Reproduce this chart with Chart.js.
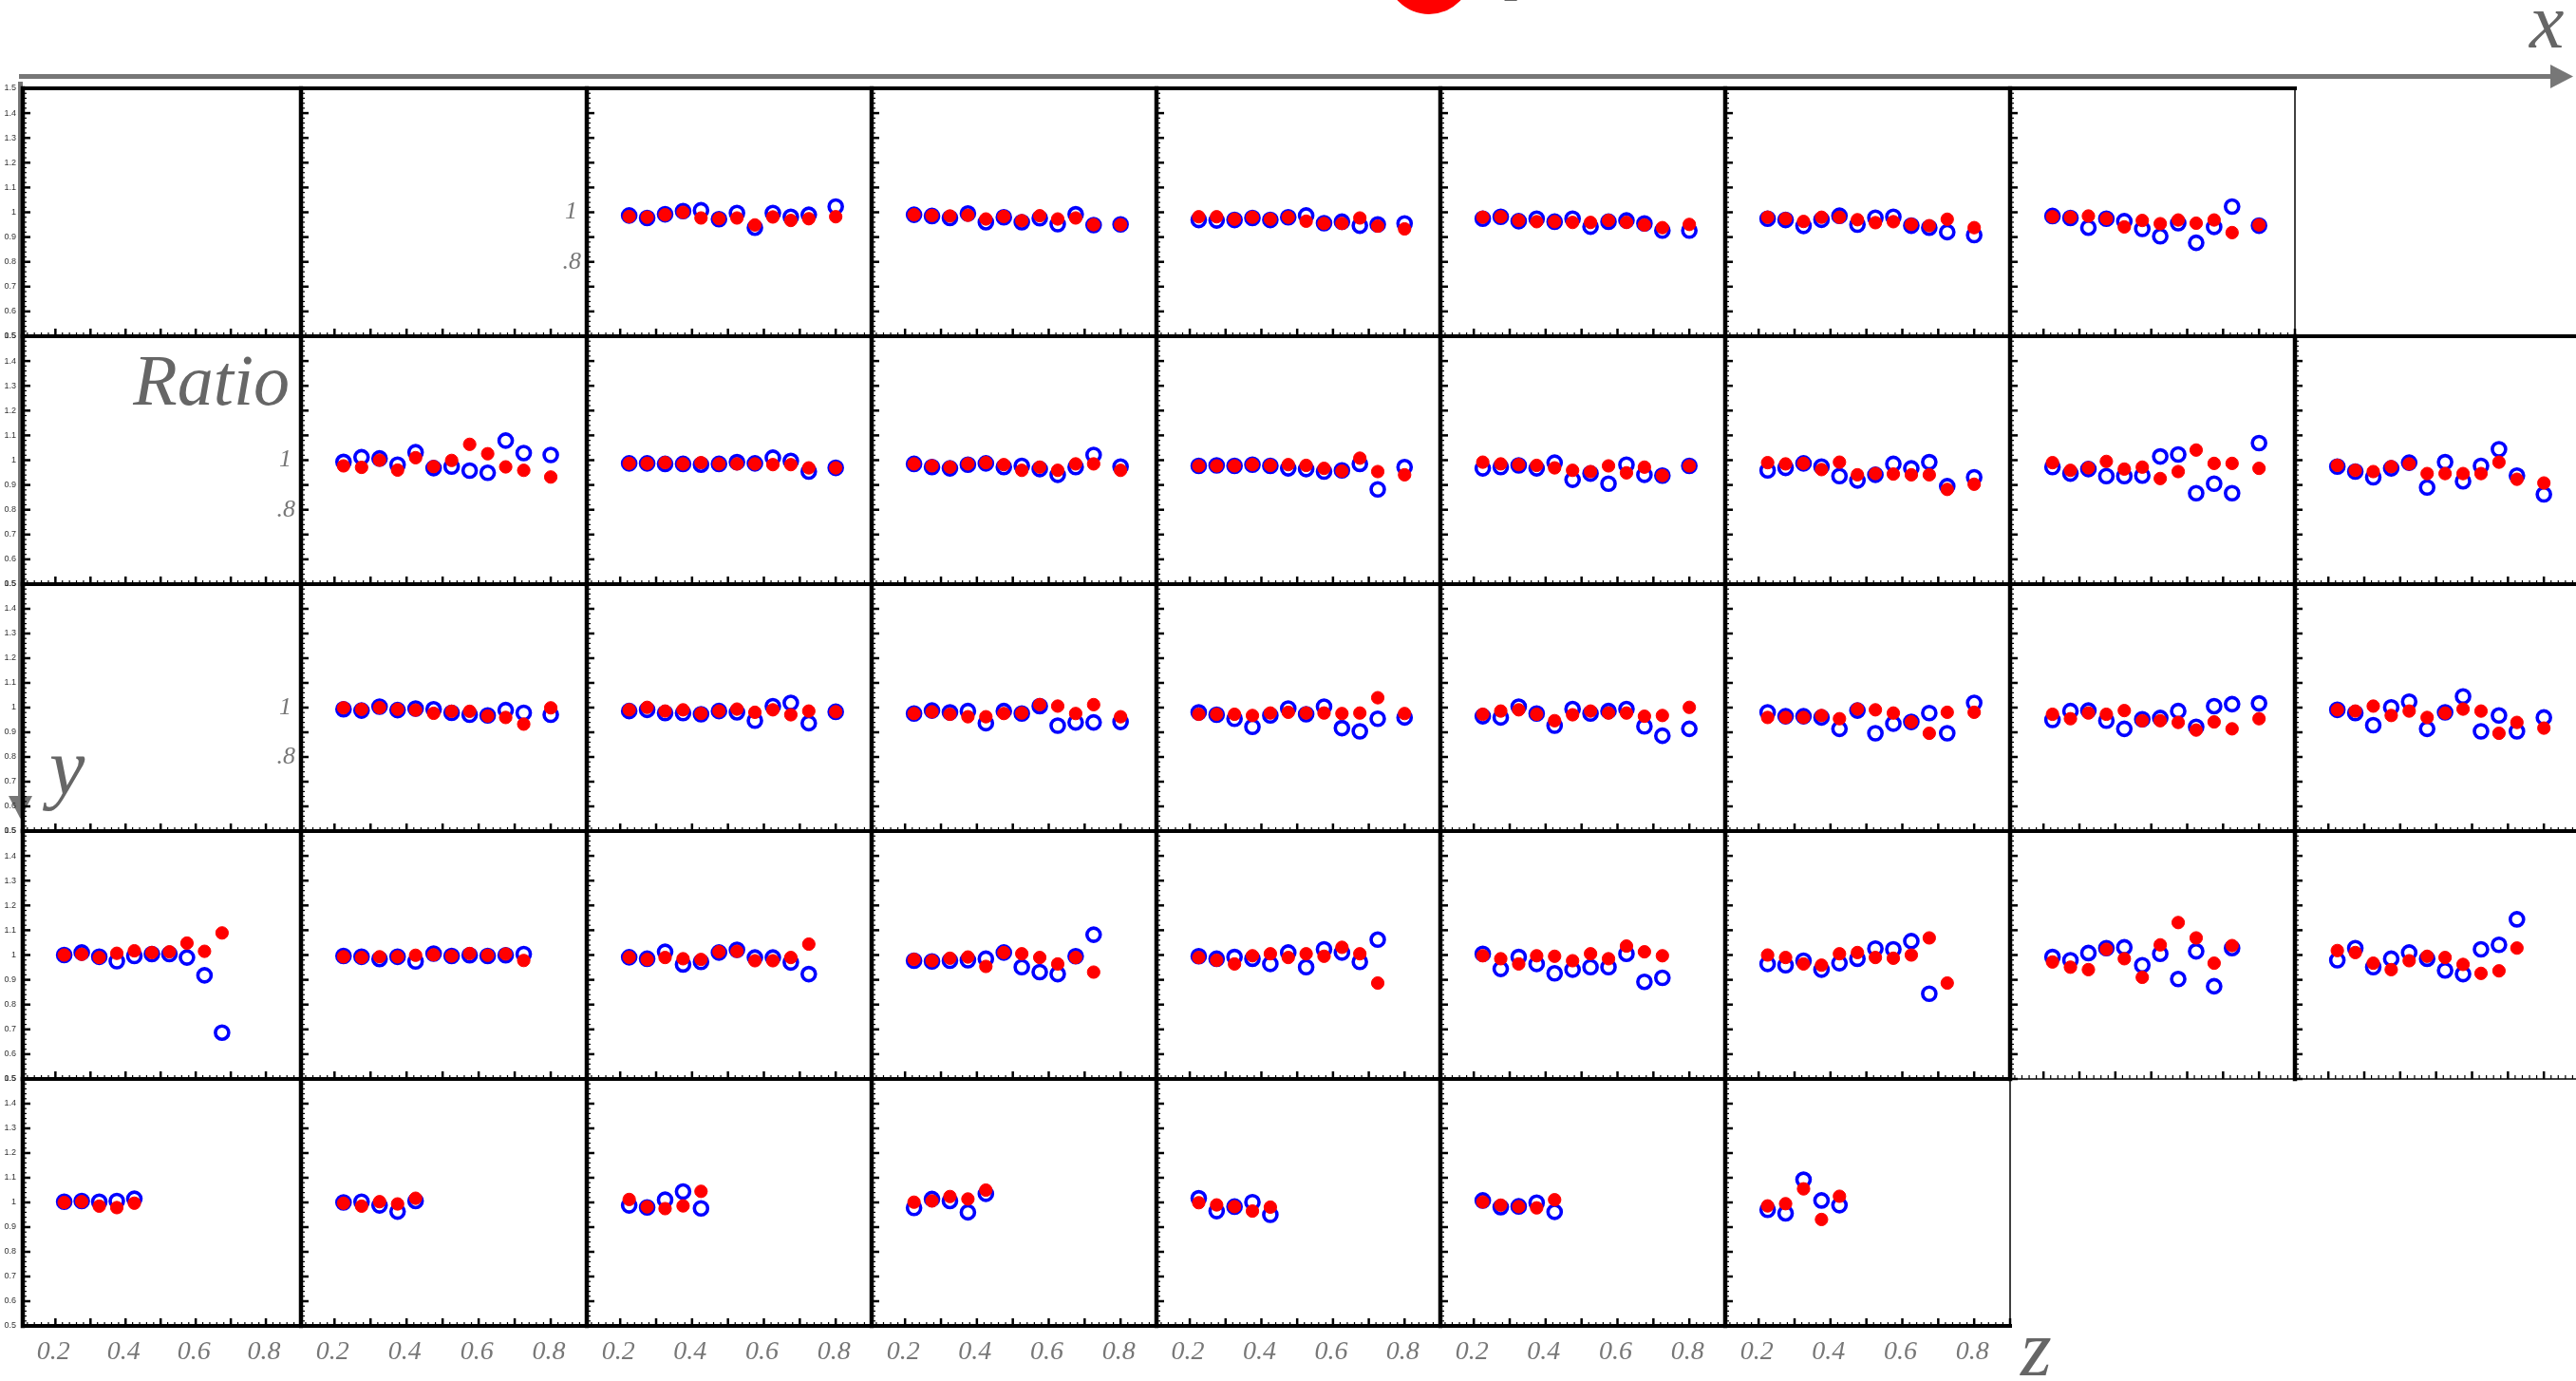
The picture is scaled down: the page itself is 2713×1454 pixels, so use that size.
<!DOCTYPE html>
<html>
<head>
<meta charset="utf-8">
<title>Ratio vs z</title>
<script src="https://cdn.jsdelivr.net/npm/chart.js@4.4.1/dist/chart.umd.min.js"></script>
<style>
  html, body { margin: 0; padding: 0; background: #fff; }
  body { width: 2713px; height: 1454px; overflow: hidden; position: relative; }
  #overlay { position: absolute; left: 0; top: 0; }
  canvas.panel { position: absolute; }
  .lbl { font-family: "Liberation Serif", serif; font-style: italic; fill: #666; }
</style>
</head>
<body>
<svg id="overlay" width="2713" height="1454">
  <!-- axis arrows -->
  <line x1="20" y1="80.5" x2="2690" y2="80.5" stroke="#777" stroke-width="5"/>
  <polygon points="2686,68 2710,80.5 2686,93" fill="#777"/>
  <line x1="21.5" y1="86" x2="21.5" y2="842" stroke="#777" stroke-width="5"/>
  <polygon points="9,838 34,838 21.5,862" fill="#777"/>
  <!-- legend, mostly above the top edge -->
  <circle cx="1505" cy="-30" r="45" fill="#ff0000"/>
  <text class="lbl" x="1588" y="-12" font-size="60">p</text>
  <text class="lbl" x="2664" y="50" font-size="82">x</text>
  <text class="lbl" x="52" y="836" font-size="84">y</text>
  <text class="lbl" x="2128" y="1448" font-size="84">z</text>
  <text class="lbl" x="305" y="426" font-size="76" text-anchor="end">Ratio</text>
</svg>
<script>
// z bin centres shared by all panels (rows 4 and 5 use only the first bins)
const zBins = [0.225, 0.275, 0.325, 0.375, 0.425, 0.475, 0.525, 0.575, 0.625, 0.675, 0.725, 0.8];

const ratioTickValues = [0.5, 0.6, 0.7, 0.8, 0.9, 1.0, 1.1, 1.2, 1.3, 1.4, 1.5];
const ratioTickLabels = ['0.5', '0.6', '0.7', '0.8', '0.9', '1', '1.1', '1.2', '1.3', '1.4', '1.5'];
const zTickValues = [0.2, 0.4, 0.6, 0.8];
const zTickLabels = ['0.2', '0.4', '0.6', '0.8'];

// open blue circles / filled red dots, one entry per column (null = empty frame)
const blueRow1 = [
  null,
  null,
  [0.987, 0.977, 0.992, 1.005, 1.008, 0.972, 0.997, 0.938, 0.997, 0.982, 0.990, 1.023],
  [0.990, 0.985, 0.977, 0.995, 0.960, 0.980, 0.960, 0.976, 0.952, 0.992, 0.948, 0.951],
  [0.969, 0.967, 0.969, 0.977, 0.969, 0.980, 0.987, 0.956, 0.962, 0.946, 0.951, 0.955],
  [0.974, 0.982, 0.964, 0.974, 0.962, 0.974, 0.942, 0.962, 0.967, 0.955, 0.926, 0.926],
  [0.974, 0.969, 0.945, 0.970, 0.986, 0.950, 0.978, 0.982, 0.946, 0.938, 0.920, 0.908],
  [0.985, 0.977, 0.938, 0.974, 0.964, 0.933, 0.903, 0.956, 0.877, 0.941, 1.023, 0.946]
];
const redRow1 = [
  null,
  null,
  [0.983, 0.980, 0.990, 1.000, 0.977, 0.974, 0.977, 0.949, 0.981, 0.967, 0.974, 0.982],
  [0.990, 0.987, 0.985, 0.988, 0.973, 0.983, 0.966, 0.986, 0.973, 0.977, 0.950, 0.950],
  [0.982, 0.982, 0.972, 0.980, 0.972, 0.980, 0.964, 0.955, 0.955, 0.977, 0.944, 0.933],
  [0.980, 0.982, 0.967, 0.962, 0.962, 0.959, 0.959, 0.967, 0.959, 0.949, 0.938, 0.951],
  [0.980, 0.974, 0.963, 0.980, 0.980, 0.970, 0.958, 0.962, 0.951, 0.946, 0.972, 0.938],
  [0.982, 0.980, 0.985, 0.974, 0.941, 0.967, 0.954, 0.969, 0.956, 0.969, 0.918, 0.949]
];

const blueRow2 = [
  null,
  [0.993, 1.012, 1.007, 0.982, 1.032, 0.968, 0.974, 0.958, 0.949, 1.079, 1.029, 1.021],
  [0.987, 0.987, 0.985, 0.985, 0.982, 0.985, 0.992, 0.987, 1.010, 0.997, 0.954, 0.969],
  [0.985, 0.972, 0.967, 0.982, 0.987, 0.972, 0.977, 0.964, 0.941, 0.972, 1.021, 0.974],
  [0.977, 0.979, 0.977, 0.982, 0.977, 0.967, 0.964, 0.954, 0.959, 0.985, 0.882, 0.972],
  [0.967, 0.972, 0.979, 0.967, 0.990, 0.921, 0.946, 0.905, 0.982, 0.941, 0.938, 0.977],
  [0.959, 0.969, 0.987, 0.974, 0.936, 0.918, 0.941, 0.985, 0.967, 0.992, 0.895, 0.931],
  [0.972, 0.946, 0.964, 0.936, 0.936, 0.938, 1.015, 1.023, 0.867, 0.905, 0.867, 1.069],
  [0.974, 0.954, 0.931, 0.967, 0.990, 0.890, 0.992, 0.915, 0.977, 1.044, 0.938, 0.862]
];
const redRow2 = [
  null,
  [0.977, 0.971, 1.000, 0.960, 1.010, 0.974, 0.999, 1.064, 1.026, 0.973, 0.959, 0.932],
  [0.987, 0.987, 0.990, 0.985, 0.990, 0.985, 0.985, 0.985, 0.982, 0.982, 0.969, 0.969],
  [0.985, 0.977, 0.972, 0.985, 0.990, 0.982, 0.959, 0.972, 0.959, 0.985, 0.985, 0.959],
  [0.977, 0.977, 0.977, 0.982, 0.979, 0.982, 0.979, 0.967, 0.956, 1.008, 0.954, 0.941],
  [0.992, 0.985, 0.982, 0.979, 0.969, 0.959, 0.954, 0.977, 0.949, 0.972, 0.938, 0.977],
  [0.990, 0.985, 0.987, 0.962, 0.992, 0.941, 0.946, 0.944, 0.941, 0.941, 0.882, 0.903],
  [0.990, 0.959, 0.969, 0.995, 0.964, 0.972, 0.926, 0.954, 1.041, 0.987, 0.987, 0.967],
  [0.979, 0.959, 0.954, 0.974, 0.985, 0.946, 0.946, 0.946, 0.946, 0.992, 0.923, 0.908]
];

const blueRow3 = [
  null,
  [0.993, 0.988, 1.004, 0.990, 0.996, 0.993, 0.979, 0.971, 0.968, 0.990, 0.979, 0.971],
  [0.986, 0.991, 0.978, 0.978, 0.973, 0.986, 0.981, 0.947, 1.006, 1.019, 0.937, 0.983],
  [0.976, 0.988, 0.981, 0.986, 0.937, 0.986, 0.976, 1.006, 0.927, 0.940, 0.940, 0.942],
  [0.981, 0.971, 0.955, 0.922, 0.968, 0.996, 0.973, 1.004, 0.917, 0.904, 0.955, 0.960],
  [0.965, 0.960, 1.004, 0.976, 0.927, 0.994, 0.976, 0.986, 0.994, 0.924, 0.886, 0.914],
  [0.981, 0.965, 0.965, 0.960, 0.914, 0.988, 0.896, 0.935, 0.942, 0.978, 0.896, 1.019],
  [0.950, 0.986, 0.988, 0.947, 0.914, 0.953, 0.958, 0.986, 0.922, 1.006, 1.014, 1.017],
  [0.991, 0.978, 0.929, 1.001, 1.024, 0.914, 0.981, 1.045, 0.904, 0.968, 0.904, 0.960]
];
const redRow3 = [
  null,
  [0.999, 0.993, 1.000, 0.993, 0.990, 0.977, 0.985, 0.985, 0.966, 0.960, 0.933, 0.999],
  [0.991, 1.001, 0.986, 0.991, 0.976, 0.986, 0.994, 0.981, 0.991, 0.971, 0.986, 0.983],
  [0.976, 0.983, 0.973, 0.963, 0.963, 0.976, 0.978, 1.012, 1.006, 0.976, 1.012, 0.963],
  [0.973, 0.973, 0.973, 0.968, 0.978, 0.981, 0.978, 0.978, 0.976, 0.978, 1.040, 0.976],
  [0.973, 0.986, 0.991, 0.973, 0.947, 0.971, 0.986, 0.978, 0.978, 0.965, 0.968, 1.001],
  [0.960, 0.960, 0.960, 0.968, 0.955, 0.994, 0.991, 0.978, 0.942, 0.896, 0.981, 0.981],
  [0.973, 0.955, 0.978, 0.973, 0.988, 0.947, 0.947, 0.940, 0.909, 0.942, 0.914, 0.955],
  [0.991, 0.986, 1.006, 0.968, 0.986, 0.960, 0.978, 0.994, 0.986, 0.896, 0.940, 0.917]
];

const blueRow4 = [
  [1.000, 1.010, 0.993, 0.975, 0.996, 1.004, 1.004, 0.990, 0.918, 0.687],
  [0.996, 0.993, 0.984, 0.993, 0.974, 1.006, 0.996, 0.999, 0.996, 0.999, 1.004],
  [0.991, 0.985, 1.013, 0.962, 0.972, 1.010, 1.021, 0.990, 0.990, 0.970, 0.923],
  [0.977, 0.974, 0.977, 0.979, 0.985, 1.010, 0.951, 0.931, 0.923, 0.995, 1.082],
  [0.995, 0.985, 0.992, 0.985, 0.964, 1.010, 0.951, 1.023, 1.010, 0.972, 1.062],
  [1.005, 0.944, 0.992, 0.964, 0.926, 0.941, 0.951, 0.951, 1.005, 0.892, 0.908],
  [0.964, 0.959, 0.977, 0.941, 0.967, 0.985, 1.026, 1.023, 1.056, 0.844, null],
  [0.992, 0.979, 1.008, 1.028, 1.031, 0.959, 1.005, 0.903, 1.015, 0.874, 1.028],
  [0.979, 1.028, 0.951, 0.985, 1.010, 0.985, 0.938, 0.923, 1.023, 1.041, 1.144]
];
const redRow4 = [
  [1.000, 1.003, 0.990, 1.007, 1.017, 1.010, 1.013, 1.048, 1.015, 1.089],
  [0.993, 0.990, 0.993, 0.993, 0.999, 1.001, 0.996, 1.006, 0.999, 1.004, 0.978],
  [0.991, 0.982, 0.990, 0.985, 0.982, 1.013, 1.015, 0.977, 0.977, 0.990, 1.044],
  [0.982, 0.977, 0.987, 0.992, 0.954, 1.010, 1.005, 0.990, 0.964, 0.990, 0.931],
  [0.990, 0.979, 0.964, 0.997, 1.005, 0.990, 1.005, 0.995, 1.031, 1.005, 0.887],
  [0.997, 0.985, 0.964, 0.997, 0.995, 0.977, 1.005, 0.985, 1.036, 1.013, 0.997],
  [1.000, 0.990, 0.964, 0.959, 1.005, 1.010, 0.990, 0.987, 1.000, 1.069, 0.887],
  [0.972, 0.951, 0.941, 1.023, 0.985, 0.910, 1.041, 1.131, 1.069, 0.967, 1.038],
  [1.018, 1.010, 0.967, 0.941, 0.977, 0.995, 0.990, 0.962, 0.926, 0.936, 1.028]
];

const blueRow5 = [
  [1.003, 1.006, 1.003, 1.006, 1.015],
  [1.000, 1.003, 0.988, 0.963, 1.006],
  [0.988, 0.980, 1.011, 1.044, 0.976],
  [0.978, 1.014, 1.006, 0.960, 1.035],
  [1.017, 0.965, 0.983, 1.001, 0.950],
  [1.008, 0.981, 0.984, 0.999, 0.962],
  [0.970, 0.956, 1.092, 1.008, 0.989]
];
const redRow5 = [
  [1.000, 1.003, 0.985, 0.979, 0.997],
  [0.997, 0.985, 1.003, 0.994, 1.017],
  [1.012, 0.982, 0.975, 0.986, 1.045],
  [1.001, 1.006, 1.024, 1.014, 1.050],
  [0.999, 0.990, 0.983, 0.965, 0.981],
  [1.002, 0.989, 0.983, 0.978, 1.011],
  [0.986, 0.995, 1.055, 0.931, 1.025]
];

const blueRows = [blueRow1, blueRow2, blueRow3, blueRow4, blueRow5];
const redRows = [redRow1, redRow2, redRow3, redRow4, redRow5];

// panel grid edges in page pixels
const COL_EDGES = [24, 317, 618, 918, 1218, 1517, 1817, 2117, 2417, 2717];
const ROW_EDGES = [93, 354, 615, 875, 1136, 1396];
const PAD = 50;

const Z_MIN = 0.107, Z_MAX = 0.9;

function toPoints(values) {
  const pts = [];
  values.forEach((v, i) => { if (v !== null) pts.push({ x: zBins[i], y: v }); });
  return pts;
}

function hline(ctx, x1, x2, y, w) {
  ctx.lineWidth = w;
  ctx.beginPath(); ctx.moveTo(x1, y); ctx.lineTo(x2, y); ctx.stroke();
}
function vline(ctx, x, y1, y2, w) {
  ctx.lineWidth = w;
  ctx.beginPath(); ctx.moveTo(x, y1); ctx.lineTo(x, y2); ctx.stroke();
}

// frame, inward ticks and the few labels each panel carries
const panelFrame = {
  id: 'panelFrame',
  afterDraw(chart, args, opts) {
    const { ctx, chartArea: a } = chart;
    const xs = chart.scales.x, ys = chart.scales.y;
    ctx.save();
    ctx.strokeStyle = '#000';
    ctx.lineCap = 'butt';

    for (let i = 0; i <= 50; i++) {
      const y = ys.getPixelForValue(0.5 + i * 0.02);
      const major = i % 5 === 0;
      hline(ctx, a.left, a.left + (major ? 8 : 4), y, major ? 2.5 : 1.2);
    }
    for (let i = 6; i <= 45; i++) {
      const v = i * 0.02;
      if (v < Z_MIN || v > Z_MAX) continue;
      const x = xs.getPixelForValue(v);
      const major = i % 5 === 0;
      vline(ctx, x, a.bottom, a.bottom - (major ? 8 : 4), major ? 2.5 : 1.2);
    }

    ctx.lineCap = 'square';
    hline(ctx, a.left, a.right, a.top, 4);
    vline(ctx, a.left, a.top, a.bottom, 4.5);
    hline(ctx, a.left, a.right, a.bottom, opts.thinBottom ? 1.5 : 4);
    if (opts.thinRight) {
      ctx.lineCap = 'butt';
      vline(ctx, a.right, a.top, a.bottom, 1.5);
    }

    if (opts.ratioLabels) {
      ctx.fillStyle = '#333';
      ctx.font = '9px "Liberation Sans", sans-serif';
      ctx.textAlign = 'right';
      ctx.textBaseline = 'middle';
      ratioTickValues.forEach((v, i) => {
        ctx.fillText(ratioTickLabels[i], a.left - 7, ys.getPixelForValue(v));
      });
    }
    if (opts.unitLabels) {
      ctx.fillStyle = '#777';
      ctx.font = 'italic 26px "Liberation Serif", serif';
      ctx.textAlign = 'right';
      ctx.textBaseline = 'middle';
      ctx.fillText('1', a.left - 10, ys.getPixelForValue(1.0));
      ctx.fillText('.8', a.left - 6, ys.getPixelForValue(0.8));
    }
    if (opts.zLabels) {
      ctx.fillStyle = '#777';
      ctx.font = 'italic 28px "Liberation Serif", serif';
      ctx.textAlign = 'center';
      ctx.textBaseline = 'middle';
      zTickValues.forEach((v, i) => {
        ctx.fillText(zTickLabels[i], xs.getPixelForValue(v) - 2, a.bottom + 28);
      });
    }
    ctx.restore();
  }
};

function makePanel(r, c) {
  const left = COL_EDGES[c], right = COL_EDGES[c + 1];
  const top = ROW_EDGES[r], bottom = ROW_EDGES[r + 1];
  const canvas = document.createElement('canvas');
  canvas.className = 'panel';
  canvas.width = right - left + 2 * PAD;
  canvas.height = bottom - top + 2 * PAD;
  canvas.style.left = (left - PAD) + 'px';
  canvas.style.top = (top - PAD) + 'px';
  document.body.appendChild(canvas);

  const blue = blueRows[r][c];
  const red = redRows[r][c];
  const datasets = [];
  if (red) {
    datasets.push({
      label: 'red', data: toPoints(red), order: 0,
      pointRadius: 6.6, pointBackgroundColor: '#ff0000',
      pointBorderColor: '#ff0000', pointBorderWidth: 1
    });
  }
  if (blue) {
    datasets.push({
      label: 'blue', data: toPoints(blue), order: 1,
      pointRadius: 7, pointBackgroundColor: 'rgba(0,0,0,0)',
      pointBorderColor: '#0000ff', pointBorderWidth: 3.6
    });
  }

  const firstData = (r === 0 && c === 2) || ((r === 1 || r === 2) && c === 1);

  new Chart(canvas, {
    type: 'scatter',
    data: { datasets: datasets },
    options: {
      responsive: false,
      animation: false,
      devicePixelRatio: 1,
      events: [],
      layout: { padding: PAD },
      scales: {
        x: { type: 'linear', min: Z_MIN, max: Z_MAX, display: false },
        y: { type: 'linear', min: 0.5, max: 1.5, display: false }
      },
      plugins: {
        legend: { display: false },
        tooltip: { enabled: false },
        panelFrame: {
          thinBottom: r === 3 && c >= 7,
          thinRight: (r === 0 && c === 7) || (r === 4 && c === 6),
          ratioLabels: c === 0,
          unitLabels: firstData,
          zLabels: r === 4
        }
      }
    },
    plugins: [panelFrame]
  });
}

blueRows.forEach((row, r) => {
  for (let c = 0; c < row.length; c++) makePanel(r, c);
});
</script>
</body>
</html>
